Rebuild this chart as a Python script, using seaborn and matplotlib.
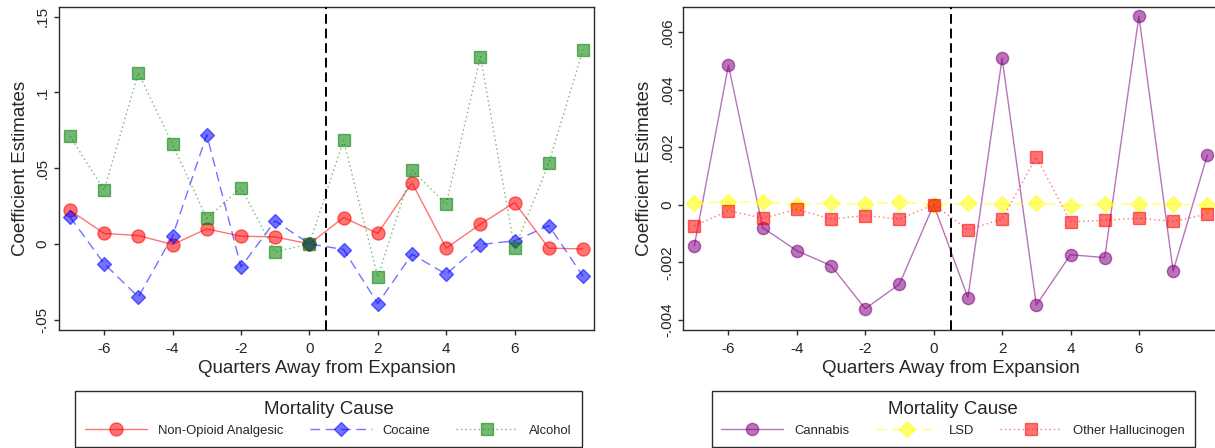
import matplotlib
matplotlib.use("Agg")
import matplotlib.pyplot as plt
import seaborn as sns

# Event-time (quarters relative to expansion)
quarters = [-7, -6, -5, -4, -3, -2, -1, 0, 1, 2, 3, 4, 5, 6, 7, 8]

# Panel A: coefficient estimates
non_opioid = [0.0222, 0.0069, 0.0055, -0.0004, 0.0099, 0.0051, 0.0046, 0.0,
              0.0174, 0.0069, 0.0403, -0.0028, 0.0130, 0.0273, -0.0028, -0.0033]
cocaine = [0.0178, -0.0130, -0.0350, 0.0051, 0.0720, -0.0152, 0.0152, 0.0,
           -0.0037, -0.0394, -0.0068, -0.0200, -0.0004, 0.0020, 0.0121, -0.0213]
alcohol = [0.0711, 0.0355, 0.1129, 0.0656, 0.0168, 0.0370, -0.0053, 0.0,
           0.0683, -0.0218, 0.0487, 0.0262, 0.1235, -0.0030, 0.0535, 0.1280]

# Panel B: coefficient estimates
cannabis = [-0.00144, 0.00485, -0.00080, -0.00160, -0.00212, -0.00362, -0.00276, 0.0,
            -0.00323, 0.00509, -0.00349, -0.00174, -0.00184, 0.00656, -0.00231, 0.00173]
lsd = [0.00005, 0.00010, 0.00010, 0.00000, 0.00005, 0.00002, 0.00010, 0.0,
       0.00005, 0.00002, 0.00005, -0.00003, 0.00002, 0.00001, 0.00002, -0.00002]
other_hallucinogen = [-0.00074, -0.00021, -0.00047, -0.00016, -0.00050, -0.00038, -0.00050, 0.0,
                      -0.00087, -0.00050, 0.00166, -0.00060, -0.00054, -0.00047, -0.00058, -0.00033]

xticks = [-6, -4, -2, 0, 2, 4, 6]
left_yticks = [-0.05, 0, 0.05, 0.1, 0.15]
left_yticklabels = ["-.05", "0", ".05", ".1", ".15"]
right_yticks = [-0.004, -0.002, 0, 0.002, 0.004, 0.006]
right_yticklabels = ["-.004", "-.002", "0", ".002", ".004", ".006"]

left_labels = ["Non-Opioid Analgesic", "Cocaine", "Alcohol"]
right_labels = ["Cannabis", "LSD", "Other Hallucinogen"]

sns.set_theme(style="white")
plt.rcParams["font.family"] = ["Liberation Sans", "DejaVu Sans"]

fig = plt.figure(figsize=(12.15, 4.48), dpi=100)
ax_l = fig.add_axes([0.04856, 0.2634, 0.4403, 0.7210])
ax_r = fig.add_axes([0.5624, 0.2634, 0.4403, 0.7210])

spine_color = "#2b2b2b"

styles_left = [
    dict(color="#FF0000", marker="o", ms=9.4, dashes=None),
    dict(color="#0000FF", marker="D", ms=7.6, dashes=(7, 4)),
    dict(color="#008000", marker="s", ms=8.6, dashes=(1, 2.2)),
]
styles_right = [
    dict(color="#800080", marker="o", ms=8.8, dashes=None),
    dict(color="#FFFF00", marker="D", ms=8.4, dashes=(7, 4)),
    dict(color="#FF0000", marker="s", ms=8.6, dashes=(1, 2.2)),
]


def draw_panel(ax, series, labels, styles, ylim, yticks, yticklabels):
    handles = []
    for vals, lab, st in zip(series, labels, styles):
        sns.lineplot(x=quarters, y=vals, ax=ax, color=st["color"],
                     marker=st["marker"], markersize=st["ms"],
                     markeredgecolor=st["color"], markeredgewidth=1.0,
                     linewidth=1.0, alpha=0.55, label=lab, legend=False)
        line = ax.lines[-1]
        if st["dashes"] is not None:
            line.set_dashes(st["dashes"])
        handles.append(line)

    ax.axvline(0.5, color="black", linewidth=1.4, dashes=(5, 2.5), zorder=5)

    ax.set_xlim(-7.32, 8.32)
    ax.set_ylim(*ylim)
    ax.set_xticks(xticks)
    ax.set_xticklabels([str(t) for t in xticks])
    ax.set_yticks(yticks)
    ax.set_yticklabels(yticklabels, rotation=90, va="center")

    ax.set_xlabel("Quarters Away from Expansion", fontsize=13.5, labelpad=3)
    ax.set_ylabel("Coefficient Estimates", fontsize=13.5, labelpad=5)

    ax.tick_params(axis="both", which="both", direction="out", length=3.6,
                   width=1, color=spine_color, labelsize=11,
                   bottom=True, left=True, top=False, right=False)
    ax.tick_params(axis="x", pad=5)
    ax.tick_params(axis="y", pad=3)
    for sp in ax.spines.values():
        sp.set_visible(True)
        sp.set_color(spine_color)
        sp.set_linewidth(1.0)
    ax.grid(False)
    return handles


h_left = draw_panel(ax_l, [non_opioid, cocaine, alcohol], left_labels, styles_left,
                    (-0.0568, 0.1563), left_yticks, left_yticklabels)
h_right = draw_panel(ax_r, [cannabis, lsd, other_hallucinogen], right_labels, styles_right,
                     (-0.004358, 0.006876), right_yticks, right_yticklabels)

legend_kw = dict(loc="center", ncol=3, title="Mortality Cause", fontsize=9.4,
                 title_fontsize=13.5, handlelength=4.75, handletextpad=0.84,
                 columnspacing=2.0, frameon=True, fancybox=False,
                 edgecolor=spine_color, framealpha=1, borderpad=0.75,
                 numpoints=1)
leg_l = fig.legend(h_left, left_labels, bbox_to_anchor=(0.2704, 0.0647), **legend_kw)
leg_r = fig.legend(h_right, right_labels, bbox_to_anchor=(0.7844, 0.0647), **legend_kw)
for leg in (leg_l, leg_r):
    leg.get_frame().set_linewidth(1.0)

fig.savefig("out.png", dpi=100)
